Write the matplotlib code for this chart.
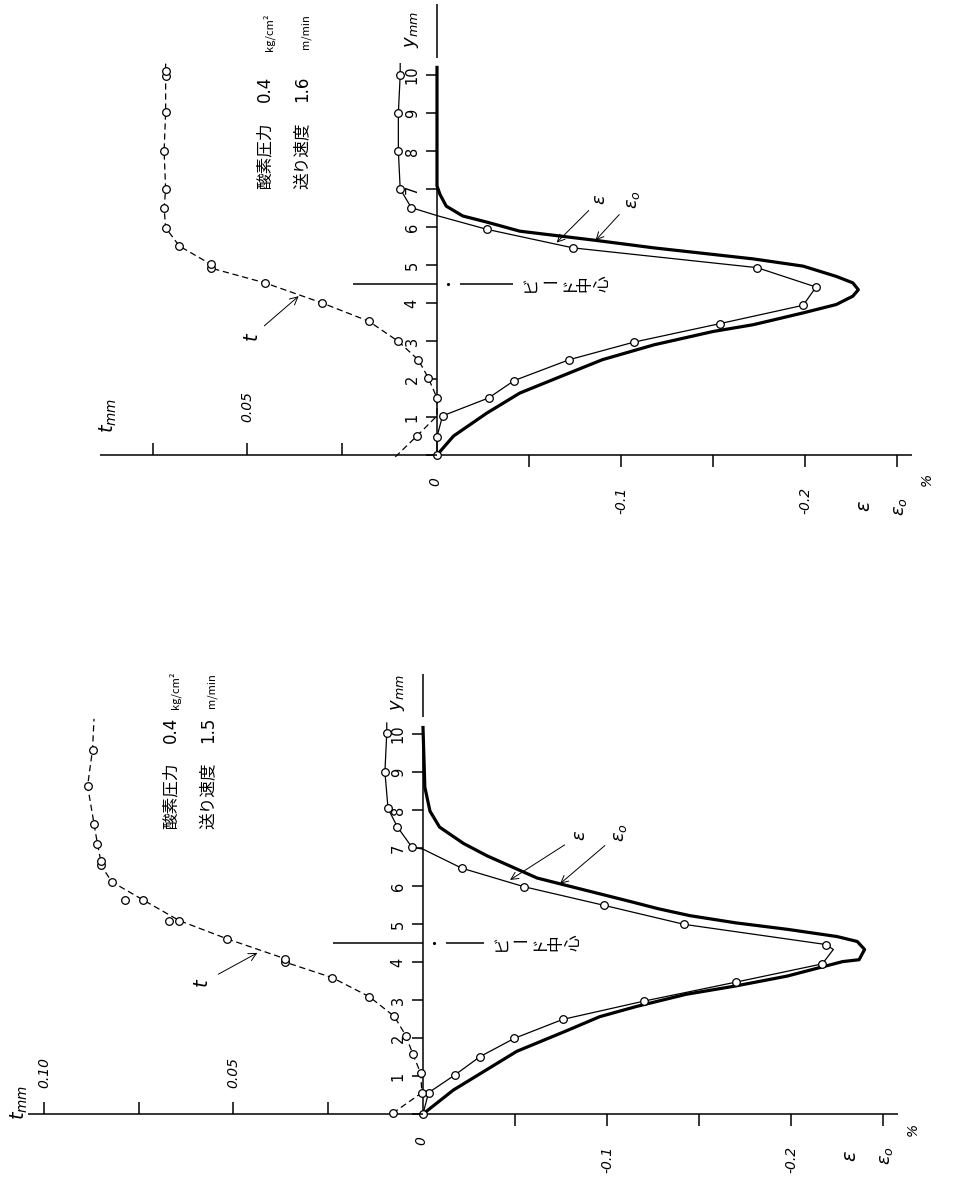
import matplotlib.pyplot as plt

JP = ['Noto Sans CJK JP', 'DejaVu Sans']

# ---- upper panel: 酸素圧力 0.4 kg/cm², 送り速度 1.6 m/min ----
top_e0_y = [0, 0.5, 1.10, 1.63, 2.16, 2.51, 2.90, 3.25, 3.43, 3.74, 3.96, 4.18, 4.35,
            4.53, 4.70, 4.97, 5.16, 5.45, 5.65, 5.89, 6.13, 6.29, 6.55, 6.86, 7.08, 10.2]
top_e0 = [0, -0.009, -0.027, -0.045, -0.072, -0.090, -0.118, -0.150, -0.172, -0.199, -0.217,
          -0.226, -0.229, -0.226, -0.217, -0.199, -0.172, -0.118, -0.086, -0.045, -0.027,
          -0.014, -0.005, -0.0016, 0, 0]

top_e_y = [0, 0.48, 1.03, 1.50, 1.96, 2.51, 2.97, 3.46, 3.94, 4.42, 4.93, 5.45, 5.94,
           6.30, 6.51, 7.0, 8.0, 9.0, 10.0, 10.3]
top_e = [0, 0, -0.003, -0.028, -0.042, -0.072, -0.107, -0.154, -0.199, -0.206, -0.174,
         -0.074, -0.027, 0.0, 0.014, 0.020, 0.021, 0.021, 0.020, 0.020]
top_e_pt = [1] * 13 + [0] + [1] * 5 + [0]

top_t_y = [-0.05, 0.5, 1.03, 1.5, 2.03, 2.5, 2.99, 3.52, 4.0, 4.53, 4.92, 5.02, 5.50,
           5.98, 6.51, 6.99, 8.0, 9.02, 9.98, 10.1, 10.3]
top_t = [0.011, 0.0053, 0.0, 0.0, 0.0023, 0.0049, 0.0102, 0.018, 0.0303, 0.0454, 0.0597,
         0.0597, 0.068, 0.0716, 0.072, 0.0716, 0.072, 0.0716, 0.0716, 0.0716, 0.0716]
top_t_pt = [0, 1, 0] + [1] * 17 + [0]

top_t_ticks = [0.025, 0.05, 0.075]
top_t_labels = {0.05: "0.05"}
top_cond = ("0.4", "1.6")

# ---- lower panel: 酸素圧力 0.4 kg/cm², 送り速度 1.5 m/min ----
bot_e0_y = [0, 0.63, 1.65, 2.19, 2.56, 2.83, 3.15, 3.37, 3.63, 4.01, 4.06, 4.33, 4.54,
            4.67, 4.86, 5.03, 5.22, 5.40, 5.60, 5.88, 6.21, 6.79, 7.12, 7.55, 7.97, 8.6,
            10.17]
bot_e0 = [0, -0.0165, -0.051, -0.078, -0.096, -0.116, -0.143, -0.170, -0.198, -0.228,
          -0.237, -0.240, -0.236, -0.225, -0.198, -0.170, -0.145, -0.128, -0.112, -0.089,
          -0.062, -0.035, -0.022, -0.009, -0.0038, -0.001, 0]

bot_e_y = [0, 0.56, 1.03, 1.51, 1.99, 2.49, 2.97, 3.47, 3.95, 4.33, 4.46, 4.99, 5.49,
           5.98, 6.47, 6.97, 7.02, 7.56, 8.04, 9.0, 10.02, 10.29]
bot_e = [0, -0.003, -0.0174, -0.031, -0.0496, -0.076, -0.120, -0.170, -0.217, -0.223,
         -0.219, -0.142, -0.0985, -0.055, -0.021, 0.0, 0.006, 0.014, 0.019, 0.0207,
         0.0197, 0.0197]
bot_e_pt = [1] * 9 + [0] + [1] * 5 + [0] + [1] * 5 + [0]

bot_t_y = [0.02, 0.56, 1.07, 1.58, 2.06, 2.57, 3.09, 3.59, 4.0, 4.09, 4.61, 5.09, 5.63,
           6.11, 6.55, 6.65, 7.11, 7.64, 8.63, 9.59, 10.4]
bot_t = [0.008, 0.0003, 0.0006, 0.0027, 0.0045, 0.0076, 0.0142, 0.024, 0.0365, 0.0365,
         0.0517, 0.0643, 0.0738, 0.0821, 0.085, 0.085, 0.0859, 0.0868, 0.0885, 0.0872,
         0.0868]
bot_t_pt = [1] * 20 + [0]
bot_t_extra_y = [5.09, 5.64]
bot_t_extra = [0.0669, 0.0786]

bot_t_ticks = [0.025, 0.05, 0.075, 0.10]
bot_t_labels = {0.05: "0.05", 0.10: "0.10"}
bot_cond = ("0.4", "1.5")

y_ticks = list(range(0, 11))
e_ticks = [-0.05, -0.10, -0.15, -0.20, -0.25]
e_labels = {-0.10: "-0.1", -0.20: "-0.2"}

W, H = 958, 1181
EPS_PX = 1840.0   # px per 1 % strain
T_PX = 3790.0     # px per 1 mm thickness
Y_PX = 38.0       # px per 1 mm of y

fig = plt.figure(figsize=(W / 100, H / 100), dpi=100)
fig.patch.set_facecolor('white')


def panel(top_px, bot_px, x0, y0, e0_y, e0, e_y, e, e_pt, t_y, t, t_pt,
          t_ticks, t_labels, t_end, cond, lay):
    ax = fig.add_axes([0, 1 - bot_px / H, 1, (bot_px - top_px) / H])
    ax.set_xlim(x0 / EPS_PX, -(W - x0) / EPS_PX)
    ax.set_ylim((y0 - bot_px) / Y_PX, (y0 - top_px) / Y_PX)
    ax.set_axis_off()
    axt = ax.twiny()
    axt.set_xlim(x0 / T_PX, -(W - x0) / T_PX)
    axt.set_axis_off()
    k = dict(color='black', lw=1.1, solid_capstyle='butt')

    # y axis (vertical) with a small break near the top
    ax.plot([0, 0], [-0.05, 10.2], **k)
    ax.plot([0, 0], [10.45, lay['ytop']], **k)
    for v in y_ticks:
        ax.plot([0, 0.006], [v, v], **k)
        if v > 0:
            ax.text(0.0135, v, str(v), rotation=90, ha='center', va='center',
                    fontsize=10.5, rotation_mode='anchor')
    ax.text(0.001, -0.7, "0", rotation=90, ha='center', va='center', fontsize=10,
            style='italic', rotation_mode='anchor')
    ax.text(0.0135, lay['ylab'], r"$y_{mm}$", rotation=90, ha='center', va='center',
            fontsize=13, rotation_mode='anchor')

    # strain axis (right) and thickness axis (left)
    ax.plot([0, -0.258], [0, 0], **k)
    axt.plot([0, t_end], [0, 0], **k)
    for v in e_ticks:
        ax.plot([v, v], [0, -0.32], **k)
    for v, s in e_labels.items():
        ax.text(v, -1.2, s, rotation=90, ha='center', va='center', fontsize=10,
                style='italic', rotation_mode='anchor')
    ax.text(-0.2326, lay['eps_lab'], r"$\varepsilon$", rotation=90, ha='center',
            va='center', fontsize=14, rotation_mode='anchor')
    ax.text(-0.2516, lay['eps_lab'], r"$\varepsilon_o$", rotation=90, ha='center',
            va='center', fontsize=13, rotation_mode='anchor')
    ax.text(-0.2663, lay['eps_lab'] + 0.7, "%", rotation=90, ha='center',
            va='center', fontsize=10, style='italic', rotation_mode='anchor')
    for v in t_ticks:
        axt.plot([v, v], [0, 0.32], **k)
    for v, s in t_labels.items():
        axt.text(v, lay['tlab_y'], s, rotation=90, ha='center', va='center',
                 fontsize=10, style='italic', rotation_mode='anchor')
    axt.text(lay['tmm'][0], lay['tmm'][1], r"$t_{mm}$", rotation=90, ha='center',
             va='center', fontsize=14, rotation_mode='anchor')

    # curves
    ax.plot(e0, e0_y, color='black', lw=2.3, solid_joinstyle='round')
    ax.plot(e, e_y, color='black', lw=0.9, marker='o', ms=5.5, mfc='white', mew=0.9,
            markevery=[i for i, f in enumerate(e_pt) if f])
    axt.plot(t, t_y, color='black', lw=0.9, ls=(0, (5, 3)), marker='o', ms=5.5,
             mfc='white', mew=0.9, markevery=[i for i, f in enumerate(t_pt) if f])
    if lay.get('t_extra'):
        xs, ys = lay['t_extra']
        axt.plot(xs, ys, ls='none', marker='o', ms=5.5, mfc='white', mec='black',
                 mew=0.9)

    # bead centre line
    bc = 4.5
    ax.plot([lay['bead'][0], 0], [bc, bc], **k)
    ax.plot([-0.006], [bc], marker='.', ms=2.5, color='black')
    ax.plot([-0.0125, lay['bead'][1]], [bc, bc], **k)
    chars = ["ビ", "ー", "ド", "中", "心"]
    x_start = lay['bead'][1] - 0.005
    for i, ch in enumerate(chars):
        ax.text(x_start - 0.0098 * (i + 0.5), bc, ch, rotation=0 if ch == "ー" else 90,
                ha='center', va='center', fontsize=12, family=JP,
                rotation_mode='anchor')

    # curve labels with arrows
    arr = dict(arrowstyle='->', lw=0.7, color='black', shrinkA=3, shrinkB=0)
    ax.annotate(r"$\varepsilon$", xy=lay['eps_tip'], xytext=lay['eps_txt'],
                rotation=90, ha='center', va='center', fontsize=13, arrowprops=arr)
    ax.annotate(r"$\varepsilon_o$", xy=lay['eps0_tip'], xytext=lay['eps0_txt'],
                rotation=90, ha='center', va='center', fontsize=13, arrowprops=arr)
    axt.annotate(r"$t$", xy=lay['t_tip'], xytext=lay['t_txt'],
                 rotation=90, ha='center', va='center', fontsize=14, arrowprops=arr)

    # test conditions
    for (xc, word, val, unit) in [(lay['cond_x'][0], "酸素圧力", cond[0], "kg/cm²"),
                                  (lay['cond_x'][1], "送り速度", cond[1], "m/min")]:
        axt.text(xc, lay['cond_y'][0], word, rotation=90, ha='left', va='center',
                 fontsize=12, family=JP, rotation_mode='anchor')
        axt.text(xc, lay['cond_y'][1], val, rotation=90, ha='center', va='center',
                 fontsize=12, rotation_mode='anchor')
        axt.text(xc - 0.001, lay['cond_y'][2], unit, rotation=90, ha='center',
                 va='center', fontsize=8, family=JP, rotation_mode='anchor')
    return ax, axt


panel(0, 540, 437, 455, top_e0_y, top_e0, top_e_y, top_e, top_e_pt,
      top_t_y, top_t, top_t_pt, top_t_ticks, top_t_labels, 0.0889, top_cond,
      dict(ytop=11.87, ylab=11.2, eps_lab=-1.35, tlab_y=1.27, tmm=(0.0866, 1.05),
           bead=(0.0457, -0.0413), eps_tip=(-0.065, 5.59), eps_txt=(-0.0886, 6.73),
           eps0_tip=(-0.0862, 5.65), eps0_txt=(-0.1067, 6.73),
           t_tip=(0.0365, 4.18), t_txt=(0.0488, 3.12),
           cond_x=(0.0453, 0.0355), cond_y=(7.0, 9.63, 11.13)))

panel(560, 1181, 423, 1114, bot_e0_y, bot_e0, bot_e_y, bot_e, bot_e_pt,
      bot_t_y, bot_t, bot_t_pt, bot_t_ticks, bot_t_labels, 0.1042, bot_cond,
      dict(ytop=11.57, ylab=11.1, eps_lab=-1.1, tlab_y=1.1, tmm=(0.1066, 0.3),
           bead=(0.0489, -0.033), eps_tip=(-0.0473, 6.16), eps_txt=(-0.0853, 7.34),
           eps0_tip=(-0.0745, 6.06), eps0_txt=(-0.107, 7.40),
           t_tip=(0.0437, 4.24), t_txt=(0.0582, 3.45),
           cond_x=(0.0666, 0.0568), cond_y=(7.5, 10.1, 11.15),
           t_extra=(bot_t_extra, bot_t_extra_y)))

fig.savefig("out.png", dpi=100, facecolor='white')
